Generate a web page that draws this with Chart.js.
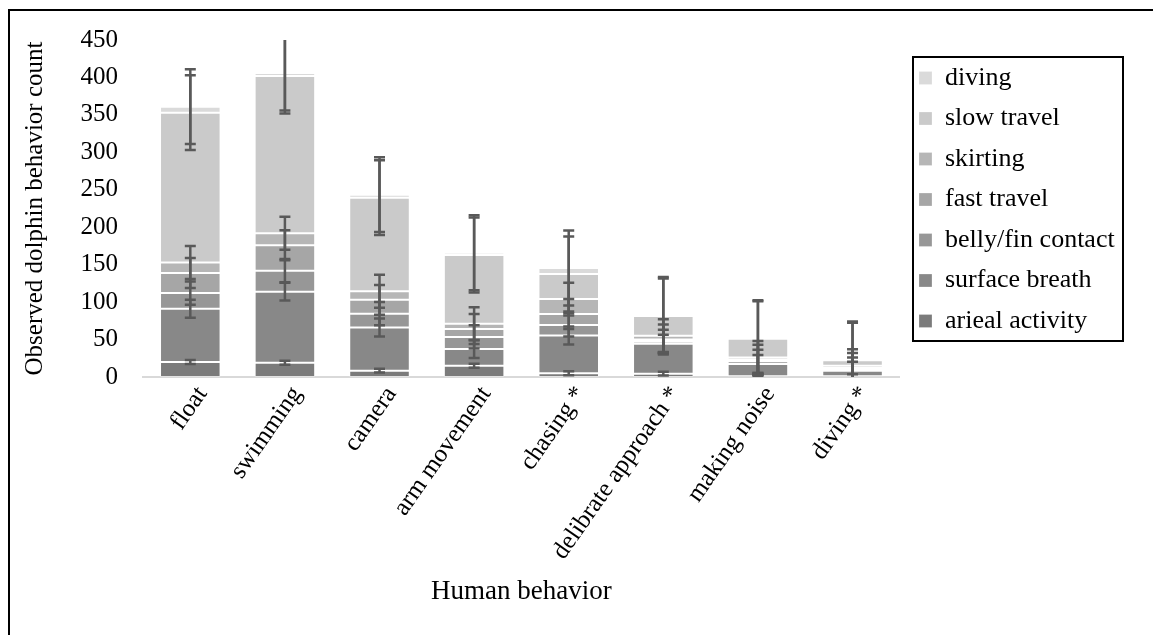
<!DOCTYPE html>
<html>
<head>
<meta charset="utf-8">
<script src="https://cdn.jsdelivr.net/npm/chart.js@4.4.1/dist/chart.umd.min.js"></script>
<style>
  html, body { margin: 0; padding: 0; background: #fff; overflow: hidden; }
  #wrap { position: absolute; left: 0; top: 0; width: 1153px; height: 635px; }
  #frame { position: absolute; left: 8px; top: 9px; width: 1200px; height: 700px; border: 2px solid #000; pointer-events: none; }
</style>
</head>
<body>
<div id="frame"></div>
<div id="wrap"><canvas id="myChart" width="1153" height="635"></canvas></div>
<script>
const behaviors = ['float', 'swimming', 'camera', 'arm movement', 'chasing *', 'delibrate approach *', 'making noise', 'diving *'];

// stacked from the bottom up
const seriesNames = ['arieal activity', 'surface breath', 'belly/fin contact', 'fast travel', 'skirting', 'slow travel', 'diving'];
const arieal = [20, 19, 8.5, 15, 5, 4.5, 1, 1];
const surfaceBreath = [71, 95, 57.5, 22.5, 50.5, 40, 16.5, 7.5];
const bellyFin = [21, 28, 18.5, 16, 14, 3, 3.5, 2];
const fastTravel = [27, 34, 18.5, 10.5, 14.5, 2.5, 2, 1.5];
const skirting = [14, 16, 11.5, 7, 20, 5, 3, 3];
const slowTravel = [200, 210, 125, 92, 33.5, 26.5, 25, 7.5];
const diving = [8, 4, 4, 3, 8, 2, 1.5, 1.5];
// fixed-value error bars, one per series
const errorSize = [2.6, 12, 15.5, 20, 22, 50, 50];
const yTicks = [0, 50, 100, 150, 200, 250, 300, 350, 400, 450];

const seriesData = [arieal, surfaceBreath, bellyFin, fastTravel, skirting, slowTravel, diving];
const grays = ['#7b7b7b', '#888888', '#979797', '#a6a6a6', '#b6b6b6', '#cacaca', '#dadada'];

const serif = 'Liberation Serif, Times New Roman, serif';

// draws the error bars at the top of every stacked segment
const errorBars = {
  id: 'errorBars',
  afterDatasetsDraw(chart) {
    const ctx = chart.ctx;
    const y = chart.scales.y;
    const area = chart.chartArea;
    ctx.save();
    ctx.beginPath();
    ctx.rect(area.left, area.top - 2, area.width, area.height + 2);
    ctx.clip();
    ctx.strokeStyle = '#595959';
    ctx.lineWidth = 2.5;
    seriesData.forEach((values, i) => {
      const meta = chart.getDatasetMeta(i);
      meta.data.forEach((bar, j) => {
        let top = 0;
        for (let k = 0; k <= i; k++) top += seriesData[k][j];
        const hi = y.getPixelForValue(Math.min(top + errorSize[i], 450));
        const lo = y.getPixelForValue(Math.max(top - errorSize[i], 0));
        ctx.beginPath();
        ctx.moveTo(bar.x, lo);
        ctx.lineTo(bar.x, hi);
        if (top + errorSize[i] <= 450) {
          ctx.moveTo(bar.x - 5.5, hi);
          ctx.lineTo(bar.x + 5.5, hi);
        }
        if (top - errorSize[i] >= 0) {
          ctx.moveTo(bar.x - 5.5, lo);
          ctx.lineTo(bar.x + 5.5, lo);
        }
        ctx.stroke();
      });
    });
    ctx.restore();
  }
};

// moves the legend to its spot and puts a box round it
const legendFrame = {
  id: 'legendFrame',
  afterLayout(chart) {
    const lg = chart.legend;
    const pad = lg.options.labels.padding;
    const dx = 919 - pad - lg.left;
    const dy = 65 - pad - lg.top;
    lg.left += dx; lg.right += dx;
    lg.top += dy; lg.bottom += dy;
  },
  afterDraw(chart) {
    const boxes = chart.legend.legendHitBoxes;
    const first = boxes[0];
    const last = boxes[boxes.length - 1];
    const ctx = chart.ctx;
    ctx.save();
    ctx.strokeStyle = '#000';
    ctx.lineWidth = 2;
    ctx.strokeRect(first.left - 6, first.top - 8, 210, last.top + last.height - first.top + 15);
    ctx.restore();
  }
};

const ctx = document.getElementById('myChart');
new Chart(ctx, {
  type: 'bar',
  data: {
    labels: behaviors,
    datasets: seriesNames.map((name, i) => ({
      label: name,
      data: seriesData[i],
      backgroundColor: grays[i],
      borderColor: 'rgba(255,255,255,0.25)',
      borderWidth: 1,
      borderSkipped: false,
      categoryPercentage: 1,
      barPercentage: 0.64
    }))
  },
  options: {
    responsive: false,
    animation: false,
    layout: { padding: { left: 20, top: 38, right: 33, bottom: 27 } },
    plugins: {
      tooltip: { enabled: false },
      legend: {
        position: 'right',
        align: 'start',
        reverse: true,
        labels: {
          color: '#000',
          font: { family: serif, size: 26 },
          boxWidth: 13,
          boxHeight: 13,
          padding: 14.5
        }
      }
    },
    scales: {
      x: {
        stacked: true,
        grid: { display: false, drawTicks: false },
        border: { display: true, color: '#d9d9d9', width: 2 },
        ticks: {
          color: '#000',
          font: { family: serif, size: 25 },
          minRotation: 55,
          maxRotation: 55,
          autoSkip: false,
          labelOffset: 12,
          padding: 4
        },
        title: {
          display: true,
          text: 'Human behavior',
          color: '#000',
          font: { family: serif, size: 27 },
          padding: { top: 0, bottom: 0 }
        },
        afterFit(scale) { scale.height = 231; }
      },
      y: {
        stacked: true,
        min: 0,
        max: 450,
        grid: { display: false, drawTicks: false },
        border: { display: false },
        afterBuildTicks(scale) { scale.ticks = yTicks.map(v => ({ value: v })); },
        ticks: {
          color: '#000',
          font: { family: serif, size: 25 },
          padding: 25
        },
        title: {
          display: true,
          text: 'Observed dolphin behavior count',
          color: '#000',
          font: { family: serif, size: 25 },
          padding: { top: 0, bottom: 0 }
        },
        afterFit(scale) { scale.width = 123; }
      }
    }
  },
  plugins: [errorBars, legendFrame]
});
</script>
</body>
</html>
